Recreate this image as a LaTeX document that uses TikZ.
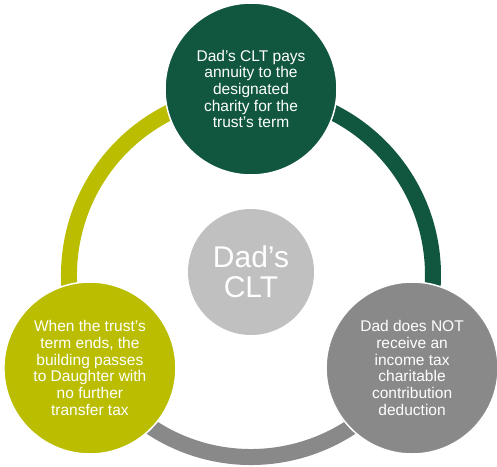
\documentclass[tikz,border=0pt]{standalone}
\usepackage{fontspec}
\setmainfont{Liberation Sans}
\usepackage{tikz}

\definecolor{cltgreen}{RGB}{17,87,64}
\definecolor{cltolive}{RGB}{187,190,0}
\definecolor{cltgray}{RGB}{137,137,137}
\definecolor{cltlight}{RGB}{192,192,192}

\begin{document}
\begin{tikzpicture}[x=1pt,y=1pt,
  ring/.style={line width=16pt},
  stage/.style={circle,draw=white,line width=1.5pt,minimum size=172pt,inner sep=0pt,
    align=center,text=white,font=\fontsize{15.5}{16.7}\selectfont},
  hub/.style={circle,fill=cltlight,minimum size=126pt,inner sep=0pt,
    align=center,text=white,font=\fontsize{30}{30}\selectfont}]
  \useasboundingbox (-251,-191) rectangle (246,275);
  \coordinate (c) at (0,0);
  % ring segments
  \draw [ring,cltgreen] ([shift={(90:182)}]c) arc[start angle=90,end angle=-30,radius=182];
  \draw [ring,cltgray] ([shift={(-30:182)}]c) arc[start angle=-30,end angle=-150,radius=182];
  \draw [ring,cltolive] ([shift={(210:182)}]c) arc[start angle=210,end angle=90,radius=182];
  % circles
  \node [hub] (clt) at (0,3) {Dad’s\\CLT};
  \node [stage,fill=cltgreen] (pays) at (90:186)
    {Dad’s CLT pays\\annuity to the\\designated\\charity for the\\trust’s term};
  \node [stage,fill=cltgray] (nodeduct) at (330:186)
    {Dad does NOT\\receive an\\income tax\\charitable\\contribution\\deduction};
  \node [stage,fill=cltolive] (ends) at (210:186)
    {When the trust’s\\term ends, the\\building passes\\to Daughter with\\no further\\transfer tax};
\end{tikzpicture}
\end{document}
